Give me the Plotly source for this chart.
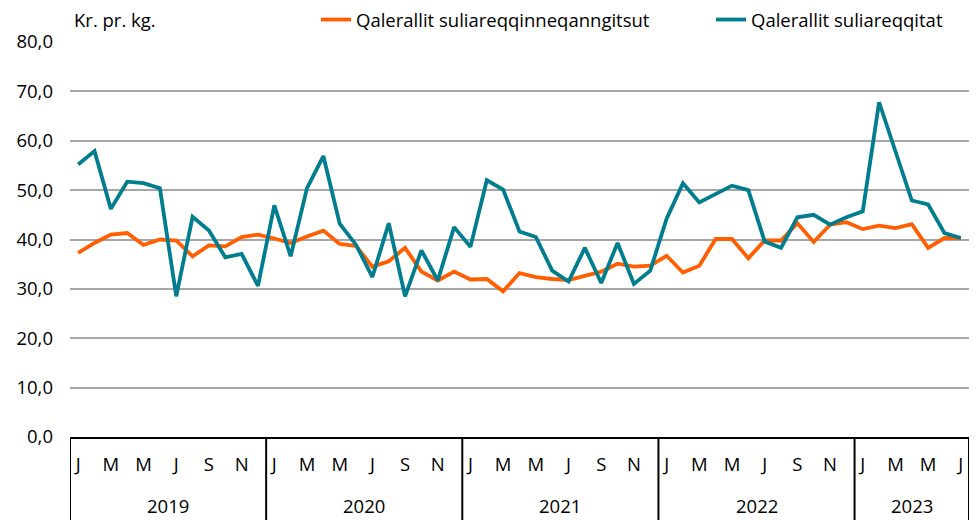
import plotly.graph_objects as go

months = ["J", "F", "M", "A", "M", "J", "J", "A", "S", "O", "N", "D"]
years = ["2019", "2020", "2021", "2022", "2023"]
months_in_year = [12, 12, 12, 12, 7]

unprocessed = [
    37.3, 39.3, 41.0, 41.3, 38.9, 40.0, 39.8, 36.6, 38.8, 38.6, 40.5, 41.0,
    40.2, 39.3, 40.6, 41.8, 39.1, 38.7, 34.5, 35.6, 38.3, 33.5, 31.7, 33.5,
    31.9, 32.0, 29.5, 33.2, 32.4, 32.0, 31.8, 32.7, 33.5, 35.1, 34.5, 34.7,
    36.7, 33.3, 34.7, 40.1, 40.1, 36.2, 39.8, 39.8, 43.3, 39.5, 43.0, 43.5,
    42.1, 42.8, 42.3, 43.1, 38.3, 40.3, 40.3,
]
processed = [
    55.2, 57.9, 46.2, 51.7, 51.4, 50.4, 28.5, 44.6, 41.8, 36.4, 37.1, 30.6,
    46.9, 36.6, 50.4, 56.9, 43.2, 38.9, 32.4, 43.3, 28.5, 37.8, 31.7, 42.5,
    38.5, 52.0, 50.1, 41.6, 40.5, 33.7, 31.5, 38.3, 31.2, 39.3, 31.0, 33.7,
    44.2, 51.4, 47.5, 49.1, 50.9, 50.0, 39.6, 38.3, 44.5, 45.0, 43.0, 44.5,
    45.7, 67.8, 57.9, 47.9, 47.1, 41.3, 40.3,
]
series_names = ["Qalerallit suliareqqinneqanngitsut", "Qalerallit suliareqqitat"]
colors = ["#FF5F00", "#007D8E"]

x = list(range(len(unprocessed)))
tickvals, ticktext = [], []
idx = 0
year_bounds = []
for y, n in zip(years, months_in_year):
    start = idx
    for m in range(n):
        if m % 2 == 0:
            tickvals.append(idx)
            ticktext.append(months[m])
        idx += 1
    year_bounds.append((start, idx - 1))

FONT = "'Open Sans', sans-serif"
FS = 18.5
PW, PH = 899, 395  # plot area size in px

fig = go.Figure()
for name, vals, c, lg in zip(series_names, [unprocessed, processed], colors, ["legend", "legend2"]):
    fig.add_trace(go.Scatter(x=x, y=vals, mode="lines", name=name, legend=lg,
                             line=dict(color=c, width=3.8)))

shapes = []
annotations = []
bottom = -83 / PH
for (s, e), y in zip(year_bounds, years):
    shapes.append(dict(type="line", xref="x", yref="paper", x0=s - 0.5, x1=s - 0.5,
                       y0=0, y1=bottom, line=dict(color="black", width=2)))
    annotations.append(dict(xref="x", yref="paper", x=(s + e) / 2, y=-68 / PH,
                            text=y, showarrow=False, font=dict(size=FS, color="black", family=FONT),
                            yanchor="middle"))
shapes.append(dict(type="line", xref="x", yref="paper", x0=year_bounds[-1][1] + 0.5,
                   x1=year_bounds[-1][1] + 0.5, y0=0, y1=bottom,
                   line=dict(color="black", width=2)))
annotations.append(dict(xref="paper", yref="paper", x=2 / PW, y=1 + 22 / PH,
                        xanchor="left", yanchor="middle", text="Kr. pr. kg.", showarrow=False,
                        font=dict(size=FS, color="black", family=FONT)))

legend_common = dict(orientation="h", xanchor="left", yanchor="middle", y=1 + 22 / PH,
                     font=dict(size=FS, family=FONT, color="black"),
                     bgcolor="rgba(0,0,0,0)")

fig.update_layout(
    width=978, height=520,
    margin=dict(l=70, r=9, t=42, b=83, autoexpand=False),
    paper_bgcolor="white", plot_bgcolor="white",
    separators=", ",
    font=dict(family=FONT, size=FS, color="black"),
    showlegend=True,
    legend=dict(x=(316 - 70) / PW, **legend_common),
    legend2=dict(x=(711 - 70) / PW, **legend_common),
    shapes=shapes, annotations=annotations,
    xaxis=dict(range=[-0.5, len(x) - 0.5], tickvals=tickvals, ticktext=ticktext,
               showgrid=False, zeroline=False, showline=True, linecolor="black", linewidth=2,
               ticks="outside", ticklen=10, tickcolor="rgba(0,0,0,0)",
               tickfont=dict(size=FS, family=FONT)),
    yaxis=dict(range=[0, 80], dtick=10, tickformat=".1f", showgrid=True,
               gridcolor="#A6A6A6", gridwidth=1.8, zeroline=False, showline=False,
               ticks="", ticklabelstandoff=16,
               tickfont=dict(size=FS, family=FONT)),
)

fig.write_html("out.html", config={"displayModeBar": False},
               post_script="document.body.style.margin='0';")
